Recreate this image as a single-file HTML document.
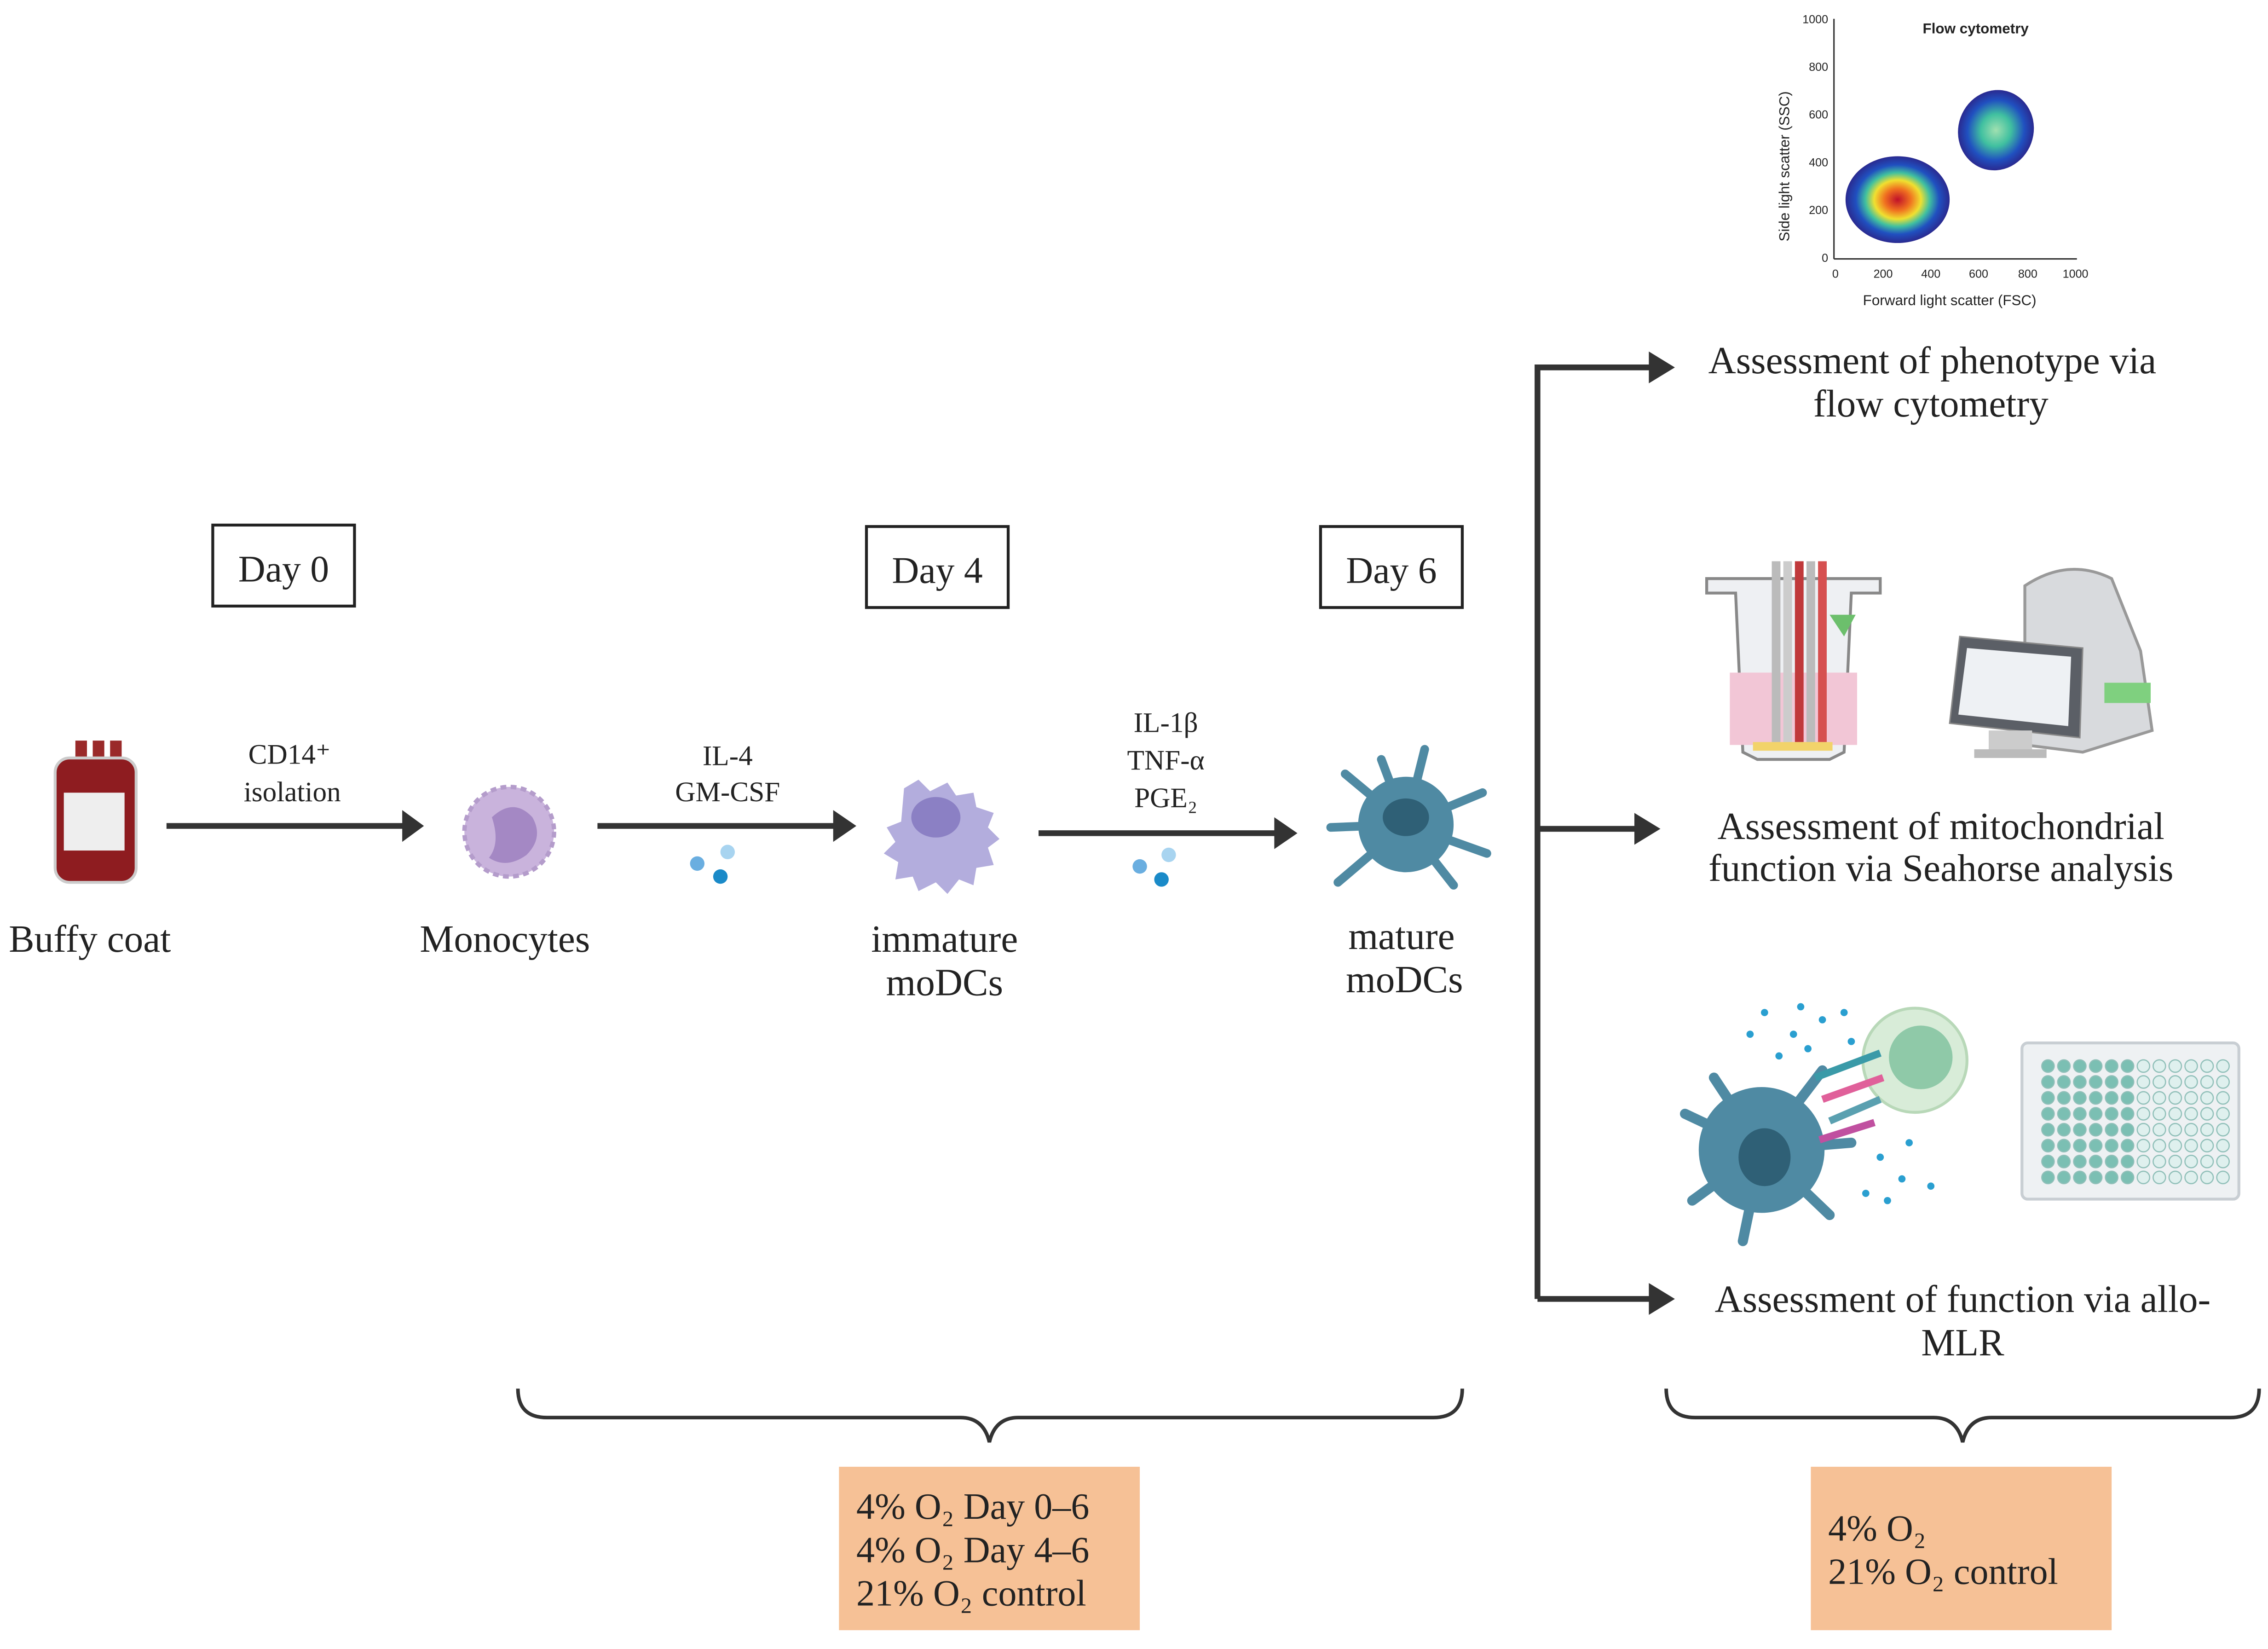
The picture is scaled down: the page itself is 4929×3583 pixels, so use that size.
<!DOCTYPE html>
<html><head><meta charset="utf-8"><style>
html,body{margin:0;padding:0;background:#fff;}
svg{display:block;}
.s{font-family:"Liberation Serif",serif;fill:#222;}
.a{font-family:"Liberation Sans",sans-serif;fill:#222;}
</style></head><body>
<svg width="4929" height="3583" viewBox="0 0 1568 1140" xmlns="http://www.w3.org/2000/svg">
<defs>
<radialGradient id="hot" cx="0.5" cy="0.5" r="0.5"><stop offset="0" stop-color="#c0102a"/><stop offset="0.25" stop-color="#f07020"/><stop offset="0.45" stop-color="#f0e030"/><stop offset="0.62" stop-color="#40c0a0"/><stop offset="0.8" stop-color="#2050c0"/><stop offset="1" stop-color="#2a2a90"/></radialGradient>
<radialGradient id="cool" cx="0.5" cy="0.5" r="0.5"><stop offset="0" stop-color="#a0e0b0"/><stop offset="0.4" stop-color="#40c0a0"/><stop offset="0.75" stop-color="#2050c0"/><stop offset="1" stop-color="#2a2a90"/></radialGradient>
<pattern id="wt" x="1410.5" y="731.5" width="11" height="11" patternUnits="userSpaceOnUse"><circle cx="5.5" cy="5.5" r="4.3" fill="#7bbfb3" stroke="#8fbfb8" stroke-width="0.8"/></pattern>
<pattern id="wl" x="1410.5" y="731.5" width="11" height="11" patternUnits="userSpaceOnUse"><circle cx="5.5" cy="5.5" r="4.3" fill="#dff0ee" stroke="#8fbfb8" stroke-width="0.8"/></pattern>
</defs>

<!-- Flow cytometry plot -->
<g>
<line x1="1268" y1="13" x2="1268" y2="179" stroke="#333" stroke-width="1"/>
<line x1="1268" y1="179" x2="1436" y2="179" stroke="#333" stroke-width="1"/>
<g class="a" font-size="8" text-anchor="end">
<text x="1264" y="16">1000</text><text x="1264" y="49">800</text><text x="1264" y="82">600</text><text x="1264" y="115">400</text><text x="1264" y="148">200</text><text x="1264" y="181">0</text></g>
<g class="a" font-size="8" text-anchor="middle">
<text x="1269" y="192">0</text><text x="1302" y="192">200</text><text x="1335" y="192">400</text><text x="1368" y="192">600</text><text x="1402" y="192">800</text><text x="1435" y="192">1000</text></g>
<text class="a" x="1348" y="211" font-size="10" text-anchor="middle">Forward light scatter (FSC)</text>
<text class="a" x="1237" y="115" font-size="10" text-anchor="middle" transform="rotate(-90 1237 115)">Side light scatter (SSC)</text>
<text class="a" x="1366" y="23" font-size="10" font-weight="bold" text-anchor="middle">Flow cytometry</text>
<ellipse cx="1312" cy="138" rx="36" ry="30" fill="url(#hot)"/>
<ellipse cx="1380" cy="90" rx="26" ry="28" fill="url(#cool)" transform="rotate(20 1380 90)"/>
</g>

<!-- Day boxes -->
<g fill="#fff" stroke="#222" stroke-width="2">
<rect x="147" y="363" width="98" height="56"/>
<rect x="599" y="364" width="98" height="56"/>
<rect x="913" y="364" width="98" height="56"/>
</g>
<g class="s" font-size="26" text-anchor="middle">
<text x="196" y="402">Day 0</text><text x="648" y="403">Day 4</text><text x="962" y="403">Day 6</text>
</g>

<!-- Main arrows -->
<g stroke="#333" stroke-width="4" fill="none">
<line x1="115" y1="571" x2="280" y2="571"/>
<line x1="413" y1="571" x2="580" y2="571"/>
<line x1="718" y1="576" x2="885" y2="576"/>
</g>
<path d="M278,560 L293,571 L278,582 z" fill="#333"/>
<path d="M576,560 L592,571 L576,582 z" fill="#333"/>
<path d="M881,565 L897,576 L881,587 z" fill="#333"/>

<g class="s" font-size="19.5" text-anchor="middle">
<text x="200" y="528">CD14⁺</text><text x="202" y="554">isolation</text>
<text x="503" y="529">IL-4</text><text x="503" y="554">GM-CSF</text>
<text x="806" y="506">IL-1β</text><text x="806" y="532">TNF-α</text><text x="806" y="558">PGE₂</text>
</g>
<!-- dots -->
<circle cx="482" cy="597" r="5" fill="#6aaee0"/><circle cx="503" cy="589" r="5" fill="#a8d4f0"/><circle cx="498" cy="606" r="5" fill="#1a8ac8"/>
<circle cx="788" cy="599" r="5" fill="#6aaee0"/><circle cx="808" cy="591" r="5" fill="#a8d4f0"/><circle cx="803" cy="608" r="5" fill="#1a8ac8"/>

<!-- Blood bag -->
<g>
<rect x="52" y="512" width="8" height="16" fill="#9a2a2a"/><rect x="64" y="512" width="8" height="16" fill="#9a2a2a"/><rect x="76" y="512" width="8" height="16" fill="#9a2a2a"/>
<rect x="38" y="524" width="56" height="86" rx="10" fill="#8e1c20" stroke="#ccc" stroke-width="2"/>
<rect x="44" y="548" width="42" height="40" fill="#eee"/>
</g>
<g class="s" font-size="26.5" text-anchor="middle">
<text x="62" y="658">Buffy coat</text>
<text x="349" y="658">Monocytes</text>
<text x="653" y="658">immature</text>
<text x="653" y="688">moDCs</text>
<text x="969" y="656">mature</text>
<text x="971" y="686">moDCs</text>
</g>

<!-- Monocyte -->
<circle cx="352" cy="575" r="31" fill="#c9b3dc" stroke="#b49ccb" stroke-width="3" stroke-dasharray="4 3"/>
<path d="M340,565 q15,-14 28,0 q8,14 -4,26 q-14,10 -26,2 q8,-10 2,-28z" fill="#a488c4"/>

<!-- immature moDC -->
<path d="M625,545 l10,-6 l8,8 l12,-6 l6,9 l12,-2 l2,10 l12,4 l-4,10 l8,8 l-8,6 l4,12 l-12,2 l-2,12 l-10,-4 l-8,10 l-8,-8 l-12,6 l-4,-10 l-12,2 l2,-12 l-10,-6 l8,-8 l-6,-10 l10,-4 z" fill="#b3addd"/>
<ellipse cx="647" cy="565" rx="17" ry="14" fill="#8b80c4"/>

<!-- mature moDC -->
<g fill="#4f8aa3" stroke="#4f8aa3" stroke-width="6" stroke-linecap="round">
<circle cx="972" cy="570" r="30"/>
<line x1="972" y1="570" x2="985" y2="518"/><line x1="972" y1="570" x2="930" y2="535"/><line x1="972" y1="570" x2="1025" y2="548"/>
<line x1="972" y1="570" x2="1028" y2="590"/><line x1="972" y1="570" x2="1005" y2="612"/><line x1="972" y1="570" x2="925" y2="610"/>
<line x1="972" y1="570" x2="920" y2="572"/><line x1="972" y1="570" x2="955" y2="525"/>
</g>
<ellipse cx="972" cy="565" rx="16" ry="13" fill="#2f6076"/>

<!-- Branch -->
<path d="M1063,898 L1063,254 L1145,254" stroke="#333" stroke-width="4" fill="none"/>
<line x1="1063" y1="573" x2="1135" y2="573" stroke="#333" stroke-width="4"/>
<line x1="1063" y1="898" x2="1145" y2="898" stroke="#333" stroke-width="4"/>
<path d="M1140,243 L1158,254 L1140,265 z" fill="#333"/>
<path d="M1130,562 L1148,573 L1130,584 z" fill="#333"/>
<path d="M1140,887 L1158,898 L1140,909 z" fill="#333"/>

<g class="s" font-size="26.5" text-anchor="middle">
<text x="1336" y="258">Assessment of phenotype via</text>
<text x="1335" y="288">flow cytometry</text>
<text x="1342" y="580">Assessment of mitochondrial</text>
<text x="1342" y="609">function via Seahorse analysis</text>
<text x="1357" y="907">Assessment of function via allo-</text>
<text x="1357" y="937">MLR</text>
</g>

<!-- Seahorse cartridge -->
<g>
<path d="M1180,400 L1300,400 L1300,410 L1280,410 L1275,520 L1265,525 L1215,525 L1205,520 L1200,410 L1180,410 z" fill="#eef0f3" stroke="#888" stroke-width="2"/>
<rect x="1196" y="465" width="88" height="50" fill="#f2c6d6"/>
<rect x="1225" y="388" width="6" height="125" fill="#bbb"/><rect x="1233" y="388" width="6" height="125" fill="#ccc"/>
<rect x="1241" y="388" width="6" height="125" fill="#c0393b"/><rect x="1249" y="388" width="6" height="125" fill="#bbb"/><rect x="1257" y="388" width="6" height="125" fill="#d65050"/>
<path d="M1265,425 L1283,425 L1275,440 z" fill="#6cbf6c"/>
<rect x="1212" y="513" width="55" height="6" fill="#f2d36a"/>
</g>
<!-- Seahorse machine -->
<g>
<path d="M1400,405 q30,-20 60,-5 L1480,450 L1488,505 L1440,520 L1400,515 z" fill="#d8dadd" stroke="#999" stroke-width="2"/>
<path d="M1355,440 L1440,448 L1438,510 L1348,500 z" fill="#5b5f66" stroke="#888"/>
<path d="M1360,448 L1432,454 L1430,502 L1354,494 z" fill="#eef1f4"/>
<rect x="1455" y="472" width="32" height="14" fill="#7fd07f"/>
<rect x="1375" y="505" width="30" height="15" fill="#ccc"/>
<rect x="1365" y="518" width="50" height="6" fill="#bbb"/>
</g>

<!-- MLR: DC + T cell -->
<g fill="#4f8aa3" stroke="#4f8aa3" stroke-width="7" stroke-linecap="round">
<circle cx="1218" cy="795" r="40"/>
<line x1="1218" y1="795" x2="1185" y2="745"/><line x1="1218" y1="795" x2="1165" y2="770"/><line x1="1218" y1="795" x2="1170" y2="830"/>
<line x1="1218" y1="795" x2="1205" y2="858"/><line x1="1218" y1="795" x2="1265" y2="840"/><line x1="1218" y1="795" x2="1260" y2="740"/>
<line x1="1218" y1="795" x2="1280" y2="790"/>
</g>
<ellipse cx="1220" cy="800" rx="18" ry="20" fill="#2f6076"/>
<circle cx="1324" cy="733" r="36" fill="#d8ecd8" stroke="#b8d8b8" stroke-width="2"/>
<circle cx="1328" cy="731" r="22" fill="#8fc9a8"/>
<g stroke-width="5"><line x1="1255" y1="745" x2="1300" y2="728" stroke="#3a9aa8"/><line x1="1260" y1="760" x2="1302" y2="745" stroke="#e0609a"/><line x1="1265" y1="775" x2="1300" y2="760" stroke="#5aa0b0"/><line x1="1258" y1="788" x2="1296" y2="776" stroke="#c050a0"/></g>
<g fill="#2a9fd0">
<circle cx="1220" cy="700" r="2.5"/><circle cx="1240" cy="715" r="2.5"/><circle cx="1260" cy="705" r="2.5"/><circle cx="1275" cy="700" r="2.5"/><circle cx="1250" cy="725" r="2.5"/><circle cx="1280" cy="720" r="2.5"/><circle cx="1300" cy="800" r="2.5"/><circle cx="1315" cy="815" r="2.5"/><circle cx="1290" cy="825" r="2.5"/><circle cx="1320" cy="790" r="2.5"/><circle cx="1335" cy="820" r="2.5"/><circle cx="1305" cy="830" r="2.5"/><circle cx="1230" cy="730" r="2.5"/><circle cx="1210" cy="715" r="2.5"/><circle cx="1245" cy="696" r="2.5"/>
</g>
<!-- 96-well plate -->
<rect x="1398" y="721" width="150" height="108" rx="4" fill="#eef1f3" stroke="#c8ced3" stroke-width="2"/>
<rect x="1410.5" y="731.5" width="66" height="88" fill="url(#wt)"/>
<rect x="1476.5" y="731.5" width="66" height="88" fill="url(#wl)"/>

<!-- Braces -->
<path d="M358,960 Q358,980 378,980 L664,980 Q680,980 684,997 Q688,980 704,980 L991,980 Q1011,980 1011,960" fill="none" stroke="#333" stroke-width="2.5"/>
<path d="M1152,960 Q1152,980 1172,980 L1337,980 Q1353,980 1357,997 Q1361,980 1377,980 L1542,980 Q1562,980 1562,960" fill="none" stroke="#333" stroke-width="2.5"/>

<!-- Orange boxes -->
<rect x="580" y="1014" width="208" height="113" fill="#f6c196"/>
<rect x="1252" y="1014" width="208" height="113" fill="#f6c196"/>
<g class="s" font-size="25.5">
<text x="592" y="1050">4% O₂ Day 0–6</text>
<text x="592" y="1080">4% O₂ Day 4–6</text>
<text x="592" y="1110">21% O₂ control</text>
<text x="1264" y="1065">4% O₂</text>
<text x="1264" y="1095">21% O₂ control</text>
</g>
</svg>
</body></html>
